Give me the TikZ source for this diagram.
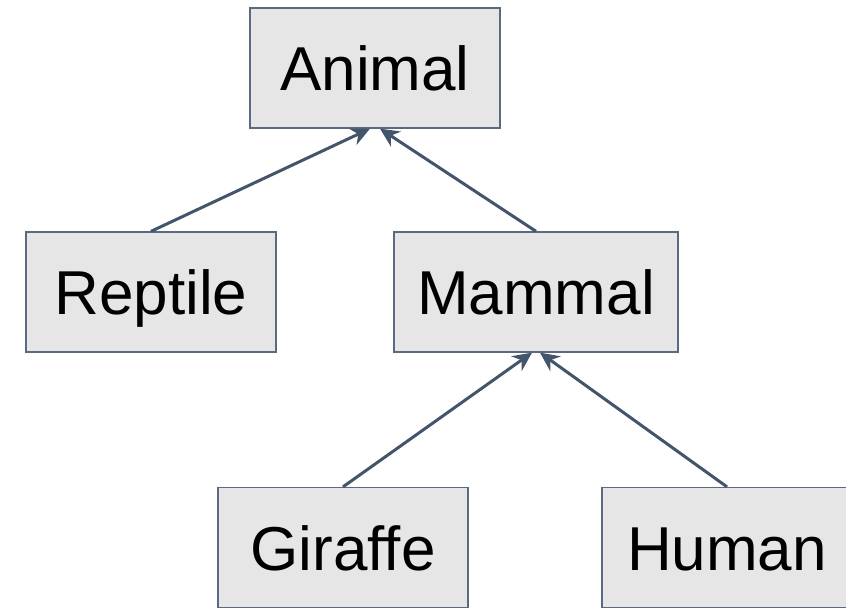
\documentclass[tikz,border=0pt]{standalone}
\usepackage{fontspec}
\setmainfont{Liberation Sans}
\usetikzlibrary{arrows.meta}

\definecolor{boxfill}{HTML}{E6E6E6}
\definecolor{boxline}{HTML}{5B6A80}
\definecolor{arrowline}{HTML}{44546A}

\tikzset{
    classbox/.style={draw=boxline, fill=boxfill, line width=1.3pt, minimum width=250pt, minimum height=120pt, inner sep=0pt, text height=46pt, text depth=0pt, font=\fontsize{62}{72}\selectfont},
    inherits/.style={draw=arrowline, line width=3pt, -{Stealth[length=19pt, width=18pt]}}
}

\begin{document}
\begin{tikzpicture}[x=1pt, y=1pt]
        \useasboundingbox (0,0) rectangle (846,608);

        \node (animal) [classbox] at (375,540) {Animal};

        \node (reptile) [classbox] at (151,316) {Reptile};
        \node (mammal) [classbox, minimum width=284pt] at (536,316) {Mammal};

        \node (giraffe) [classbox] at (343,60.5) {Giraffe};
        \node (human) [classbox] at (727,60.5) {Human};

        \draw [inherits] (reptile.north) -- ([xshift=-5pt]animal.south);
        \draw [inherits] (mammal.north) -- ([xshift=5pt]animal.south);

        \draw [inherits] (giraffe.north) -- ([xshift=-4pt]mammal.south);
        \draw [inherits] (human.north) -- ([xshift=4pt]mammal.south);
    \end{tikzpicture}
\end{document}
